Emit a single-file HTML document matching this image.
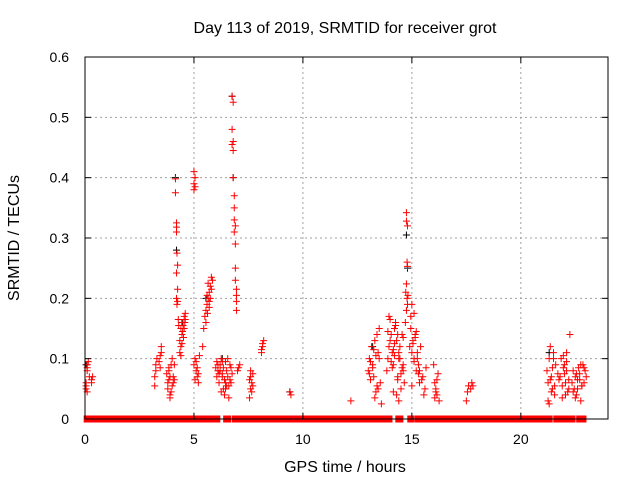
<!DOCTYPE html>
<html><head><meta charset="utf-8"><style>
html,body{margin:0;padding:0;background:#fff}
svg{display:block;font-family:"Liberation Sans",sans-serif}
</style></head><body>
<svg id="c" width="640" height="480">
<text x="345" y="33" text-anchor="middle" font-size="16">Day 113 of 2019, SRMTID for receiver grot</text>
<text x="345" y="472" text-anchor="middle" font-size="16">GPS time / hours</text>
<text transform="translate(19,238) rotate(-90)" text-anchor="middle" font-size="16">SRMTID / TECUs</text>
<g id="grid"></g>
<g id="marks"></g>
<g id="axes"></g>
</svg>
<script>
const xTicks=[0,5,10,15,20];
const yTicks=[0,0.1,0.2,0.3,0.4,0.5,0.6];
const yTickLabels=["0","0.1","0.2","0.3","0.4","0.5","0.6"];
const zeroStart=[0.1,3.25,3.5,4.3,4.75,4.85,5.3,5.75,5.85,6.5,6.9,7.8,8.2,13.2,13.6,14.4,14.95,15.3,15.7,16.25,21.65,22.2,22.7];
const zeroEnd=[3.1,3.45,4.0,4.5,4.8,5.2,5.65,5.8,6.05,6.55,7.7,8.15,13.1,13.4,13.95,14.45,14.97,15.5,16.05,21.3,21.9,22.35,22.85];
const hours=[
0.05,0.05,0.1,0.1,0.15,0.1,0.2,0.3,0.35,0.3,0.05,0.1,
3.2,3.2,3.25,3.25,3.3,3.45,3.5,3.5,3.45,3.4,
3.8,3.85,3.9,3.95,3.9,3.85,3.95,4.0,4.05,4.0,4.05,3.8,3.9,4.1,4.1,3.75,3.85,
4.15,4.15,4.2,4.2,4.2,4.22,4.25,4.2,4.25,4.25,4.22,4.28,4.3,4.2,
4.35,4.4,4.4,4.45,4.5,4.55,4.6,4.5,4.35,4.45,4.55,4.6,4.4,4.48,4.58,4.52,
5.0,5.05,5.0,5.05,5.0,
5.0,5.05,5.1,5.15,5.05,5.2,5.1,5.15,5.2,5.25,
5.4,5.45,5.5,5.55,5.6,5.65,5.7,5.75,5.8,5.75,5.7,5.6,5.65,5.55,5.85,5.8,5.7,5.62,
6.0,6.05,6.1,6.15,6.2,6.25,6.3,6.35,6.4,6.45,6.5,6.55,6.6,6.65,6.7,6.05,6.15,6.25,6.35,6.45,6.55,6.65,6.1,6.2,6.3,6.4,6.5,6.6,6.7,6.75,6.3,6.45,
6.75,6.8,6.75,6.8,6.75,6.8,6.8,6.85,6.85,6.85,6.9,6.85,6.9,6.9,6.9,6.95,6.95,6.95,6.95,
7.05,7.1,7.0,
7.55,7.6,7.65,7.7,7.6,7.55,7.65,7.7,7.6,
8.1,8.15,8.2,8.15,8.1,
9.4,9.45,12.2,
13.0,13.05,13.1,13.15,13.2,13.25,13.3,13.35,13.4,13.45,13.5,13.55,13.1,13.2,13.3,13.4,13.5,13.6,13.05,13.25,13.45,13.35,
13.85,13.9,13.95,14.0,14.05,14.1,14.15,14.2,14.25,14.3,14.35,14.4,14.45,14.5,14.55,14.6,14.65,13.9,14.0,14.1,14.2,14.3,14.4,14.5,14.6,14.05,14.15,14.25,14.35,14.45,14.55,13.95,14.2,14.4,14.6,14.15,14.35,
14.75,14.75,14.8,14.78,14.8,14.75,14.72,14.78,14.8,14.75,14.82,14.7,
14.9,14.95,15.0,15.05,15.1,15.15,15.2,15.25,15.3,15.35,15.4,15.5,15.6,15.65,14.95,15.05,15.15,15.25,15.35,15.45,15.55,15.0,15.1,15.2,15.3,15.1,15.0,
16.0,16.05,16.1,16.15,16.2,16.25,16.05,16.15,16.1,
17.5,17.55,17.6,17.7,17.75,17.8,
21.2,21.25,21.3,21.35,21.4,21.45,21.5,21.55,21.6,21.25,21.35,21.45,21.55,21.3,21.4,21.5,21.7,21.75,
21.8,21.85,21.9,21.95,22.0,22.05,22.1,22.15,22.2,22.25,21.9,22.0,22.1,22.2,22.1,21.95,22.05,
22.35,22.4,22.45,22.5,22.55,22.6,22.65,22.7,22.75,22.8,22.85,22.9,22.95,23.0,22.4,22.5,22.6,22.7,22.8,22.9,22.55,22.75
];
const values=[
0.05,0.055,0.085,0.09,0.095,0.08,0.07,0.065,0.07,0.06,0.06,0.045,
0.055,0.07,0.08,0.09,0.1,0.105,0.11,0.12,0.085,0.095,
0.06,0.065,0.04,0.045,0.07,0.08,0.09,0.1,0.07,0.055,0.06,0.05,0.035,0.065,0.09,0.075,0.085,
0.398,0.375,0.325,0.318,0.31,0.275,0.255,0.242,0.215,0.195,0.19,0.165,0.155,0.2,
0.13,0.12,0.15,0.14,0.16,0.17,0.165,0.155,0.11,0.125,0.15,0.175,0.105,0.145,0.16,0.135,
0.41,0.4,0.39,0.385,0.38,
0.09,0.1,0.08,0.07,0.065,0.06,0.095,0.085,0.075,0.105,
0.12,0.15,0.17,0.18,0.19,0.2,0.21,0.22,0.235,0.2,0.185,0.205,0.225,0.16,0.23,0.215,0.195,0.175,
0.085,0.07,0.09,0.06,0.08,0.1,0.075,0.05,0.065,0.095,0.08,0.07,0.055,0.09,0.085,0.095,0.075,0.045,0.085,0.06,0.1,0.065,0.08,0.09,0.07,0.04,0.055,0.035,0.06,0.075,0.095,0.05,
0.535,0.525,0.48,0.46,0.455,0.445,0.4,0.37,0.35,0.33,0.32,0.31,0.29,0.25,0.23,0.215,0.205,0.195,0.18,
0.085,0.09,0.08,
0.035,0.05,0.06,0.075,0.08,0.065,0.045,0.055,0.07,
0.11,0.12,0.13,0.125,0.115,
0.045,0.04,0.03,
0.08,0.1,0.065,0.12,0.09,0.07,0.13,0.045,0.14,0.11,0.15,0.06,0.095,0.085,0.035,0.055,0.1,0.025,0.075,0.115,0.05,0.105,
0.08,0.1,0.12,0.13,0.14,0.11,0.09,0.15,0.16,0.13,0.07,0.1,0.12,0.05,0.14,0.09,0.06,0.145,0.165,0.085,0.125,0.04,0.11,0.075,0.135,0.095,0.115,0.155,0.065,0.1,0.085,0.17,0.105,0.03,0.08,0.045,0.14,
0.342,0.328,0.32,0.26,0.253,0.224,0.21,0.2,0.19,0.18,0.205,0.16,
0.12,0.15,0.19,0.13,0.1,0.14,0.08,0.11,0.09,0.06,0.12,0.07,0.05,0.085,0.17,0.125,0.135,0.1,0.08,0.065,0.04,0.11,0.095,0.145,0.075,0.175,0.055,
0.09,0.06,0.05,0.04,0.075,0.03,0.035,0.065,0.045,
0.03,0.045,0.055,0.05,0.06,0.055,
0.08,0.06,0.1,0.12,0.07,0.05,0.11,0.04,0.09,0.03,0.065,0.085,0.055,0.025,0.045,0.1,0.075,0.065,
0.07,0.1,0.055,0.085,0.09,0.06,0.11,0.045,0.065,0.14,0.035,0.075,0.08,0.05,0.095,0.105,0.04,
0.06,0.08,0.05,0.07,0.04,0.065,0.085,0.075,0.03,0.055,0.09,0.06,0.08,0.07,0.045,0.035,0.05,0.065,0.055,0.085,0.075,0.09
];
const blackHours=[0.05,4.15,4.2,6.75,6.8,5.55,9.4,14.75,14.8,13.2,21.3,4.45,6.3];
const blackValues=[0.09,0.4,0.28,0.535,0.4,0.2,0.045,0.305,0.25,0.12,0.11,0.16,0.1];

const L=85,R=608,T=57,B=419,XMAX=24,YMAX=0.6;
const xs=h=>L+(R-L)*h/XMAX;
const ys=v=>B-(B-T)*v/YMAX;
const NS="http://www.w3.org/2000/svg";
function mk(tag,attrs,parent){const e=document.createElementNS(NS,tag);for(const k in attrs)e.setAttribute(k,attrs[k]);parent.appendChild(e);return e;}
const grid=document.getElementById('grid'),marks=document.getElementById('marks'),axes=document.getElementById('axes');
xTicks.forEach(t=>{
  const x=xs(t);
  if(t>0){const g=mk('line',{x1:x,x2:x,y1:T,y2:B,stroke:'#a0a0a0','stroke-dasharray':'2,3'},grid);
  
  }
  mk('line',{x1:x,x2:x,y1:B,y2:B-6,stroke:'#000'},axes);
  mk('line',{x1:x,x2:x,y1:T,y2:T+6,stroke:'#000'},axes);
  const tx=mk('text',{x:x,y:B+25,'text-anchor':'middle','font-size':14},axes);tx.textContent=String(t);
  
  
});
yTicks.forEach((t,i)=>{
  const y=ys(t);
  if(t>0&&t<YMAX){const g=mk('line',{x1:L,x2:R,y1:y,y2:y,stroke:'#a0a0a0','stroke-dasharray':'2,3'},grid);
  
  }
  mk('line',{x1:L,x2:L+6,y1:y,y2:y,stroke:'#000'},axes);
  mk('line',{x1:R,x2:R-6,y1:y,y2:y,stroke:'#000'},axes);
  const tx=mk('text',{x:L-16,y:y+5,'text-anchor':'end','font-size':14},axes);tx.textContent=yTickLabels[i];
  
  
});
const frame=mk('rect',{x:L,y:T,width:R-L,height:B-T,fill:'none',stroke:'#000'},axes);


function plus(h,v,col){
  const x=xs(h),y=ys(v);
  const p=mk('path',{d:`M${x-3.5},${y}h7M${x},${y-3.5}v7`,stroke:col,'stroke-width':1,fill:'none'},marks);
  return p;
}
blackHours.forEach((h,i)=>{const p=plus(h,blackValues[i],'#000');
  
  });
zeroStart.forEach((s,i)=>{
  const x1=xs(s)-3.5,x2=xs(zeroEnd[i])+3.5,y=ys(0);
  const r=mk('rect',{x:x1,y:y-3.5,width:x2-x1,height:7,fill:'#ff0000'},marks);
  
  
});
hours.forEach((h,i)=>{const p=plus(h,values[i],'#ff0000');
  
  });
</script>
</body></html>
